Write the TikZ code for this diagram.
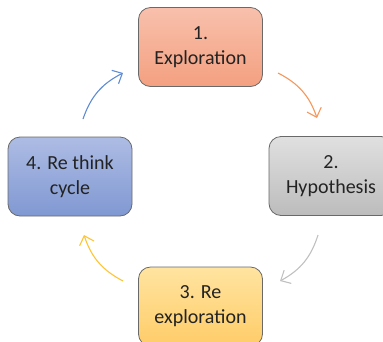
\documentclass[tikz,border=0pt]{standalone}
\usepackage{fontspec}
\setmainfont{Carlito}
\usetikzlibrary{arrows.meta}
\definecolor{txt}{RGB}{35,35,35}
\definecolor{bord}{RGB}{105,105,105}
\tikzset{
  stage/.style={draw=bord, line width=0.8pt, rounded corners=12pt, minimum width=124pt, minimum height=79pt,
    align=center, text=txt, font=\fontsize{20}{25}\selectfont, shading=axis, shading angle=0},
  cyc/.style={line width=1.1pt, -{Straight Barb[length=8pt,width=15pt,line width=1.1pt]}, bend left=22}
}
\begin{document}
\begin{tikzpicture}[x=1pt,y=1pt]
\useasboundingbox (0,0) rectangle (383,-341);
\node[stage, top color={rgb,255:red,248;green,192;blue,172}, bottom color={rgb,255:red,244;green,160;blue,128}] (n1) at (200.5,-47) {1.\\Exploration};
\node[stage, top color={rgb,255:red,224;green,224;blue,224}, bottom color={rgb,255:red,188;green,188;blue,188}] (n2) at (331,-176) {2.\\Hypothesis};
\node[stage, top color={rgb,255:red,255;green,228;blue,160}, bottom color={rgb,255:red,255;green,204;blue,104}] (n3) at (200.5,-306.5) {3. Re\\exploration};
\node[stage, top color={rgb,255:red,174;green,188;blue,228}, bottom color={rgb,255:red,128;green,152;blue,210}] (n4) at (70,-176.5) {4. Re think\\cycle};
\coordinate (a1s) at (278,-73);  \coordinate (a1e) at (317,-118);
\coordinate (a2s) at (318,-235); \coordinate (a2e) at (280,-281);
\coordinate (a3s) at (123,-281); \coordinate (a3e) at (84,-235);
\coordinate (a4s) at (83,-119);  \coordinate (a4e) at (123,-73);
\draw[cyc, draw={rgb,255:red,247;green,150;blue,90}] (a1s) to (a1e);
\draw[cyc, draw={rgb,255:red,192;green,192;blue,192}] (a2s) to (a2e);
\draw[cyc, draw={rgb,255:red,255;green,196;blue,50}] (a3s) to (a3e);
\draw[cyc, draw={rgb,255:red,95;green,140;blue,210}] (a4s) to (a4e);
\end{tikzpicture}
\end{document}
